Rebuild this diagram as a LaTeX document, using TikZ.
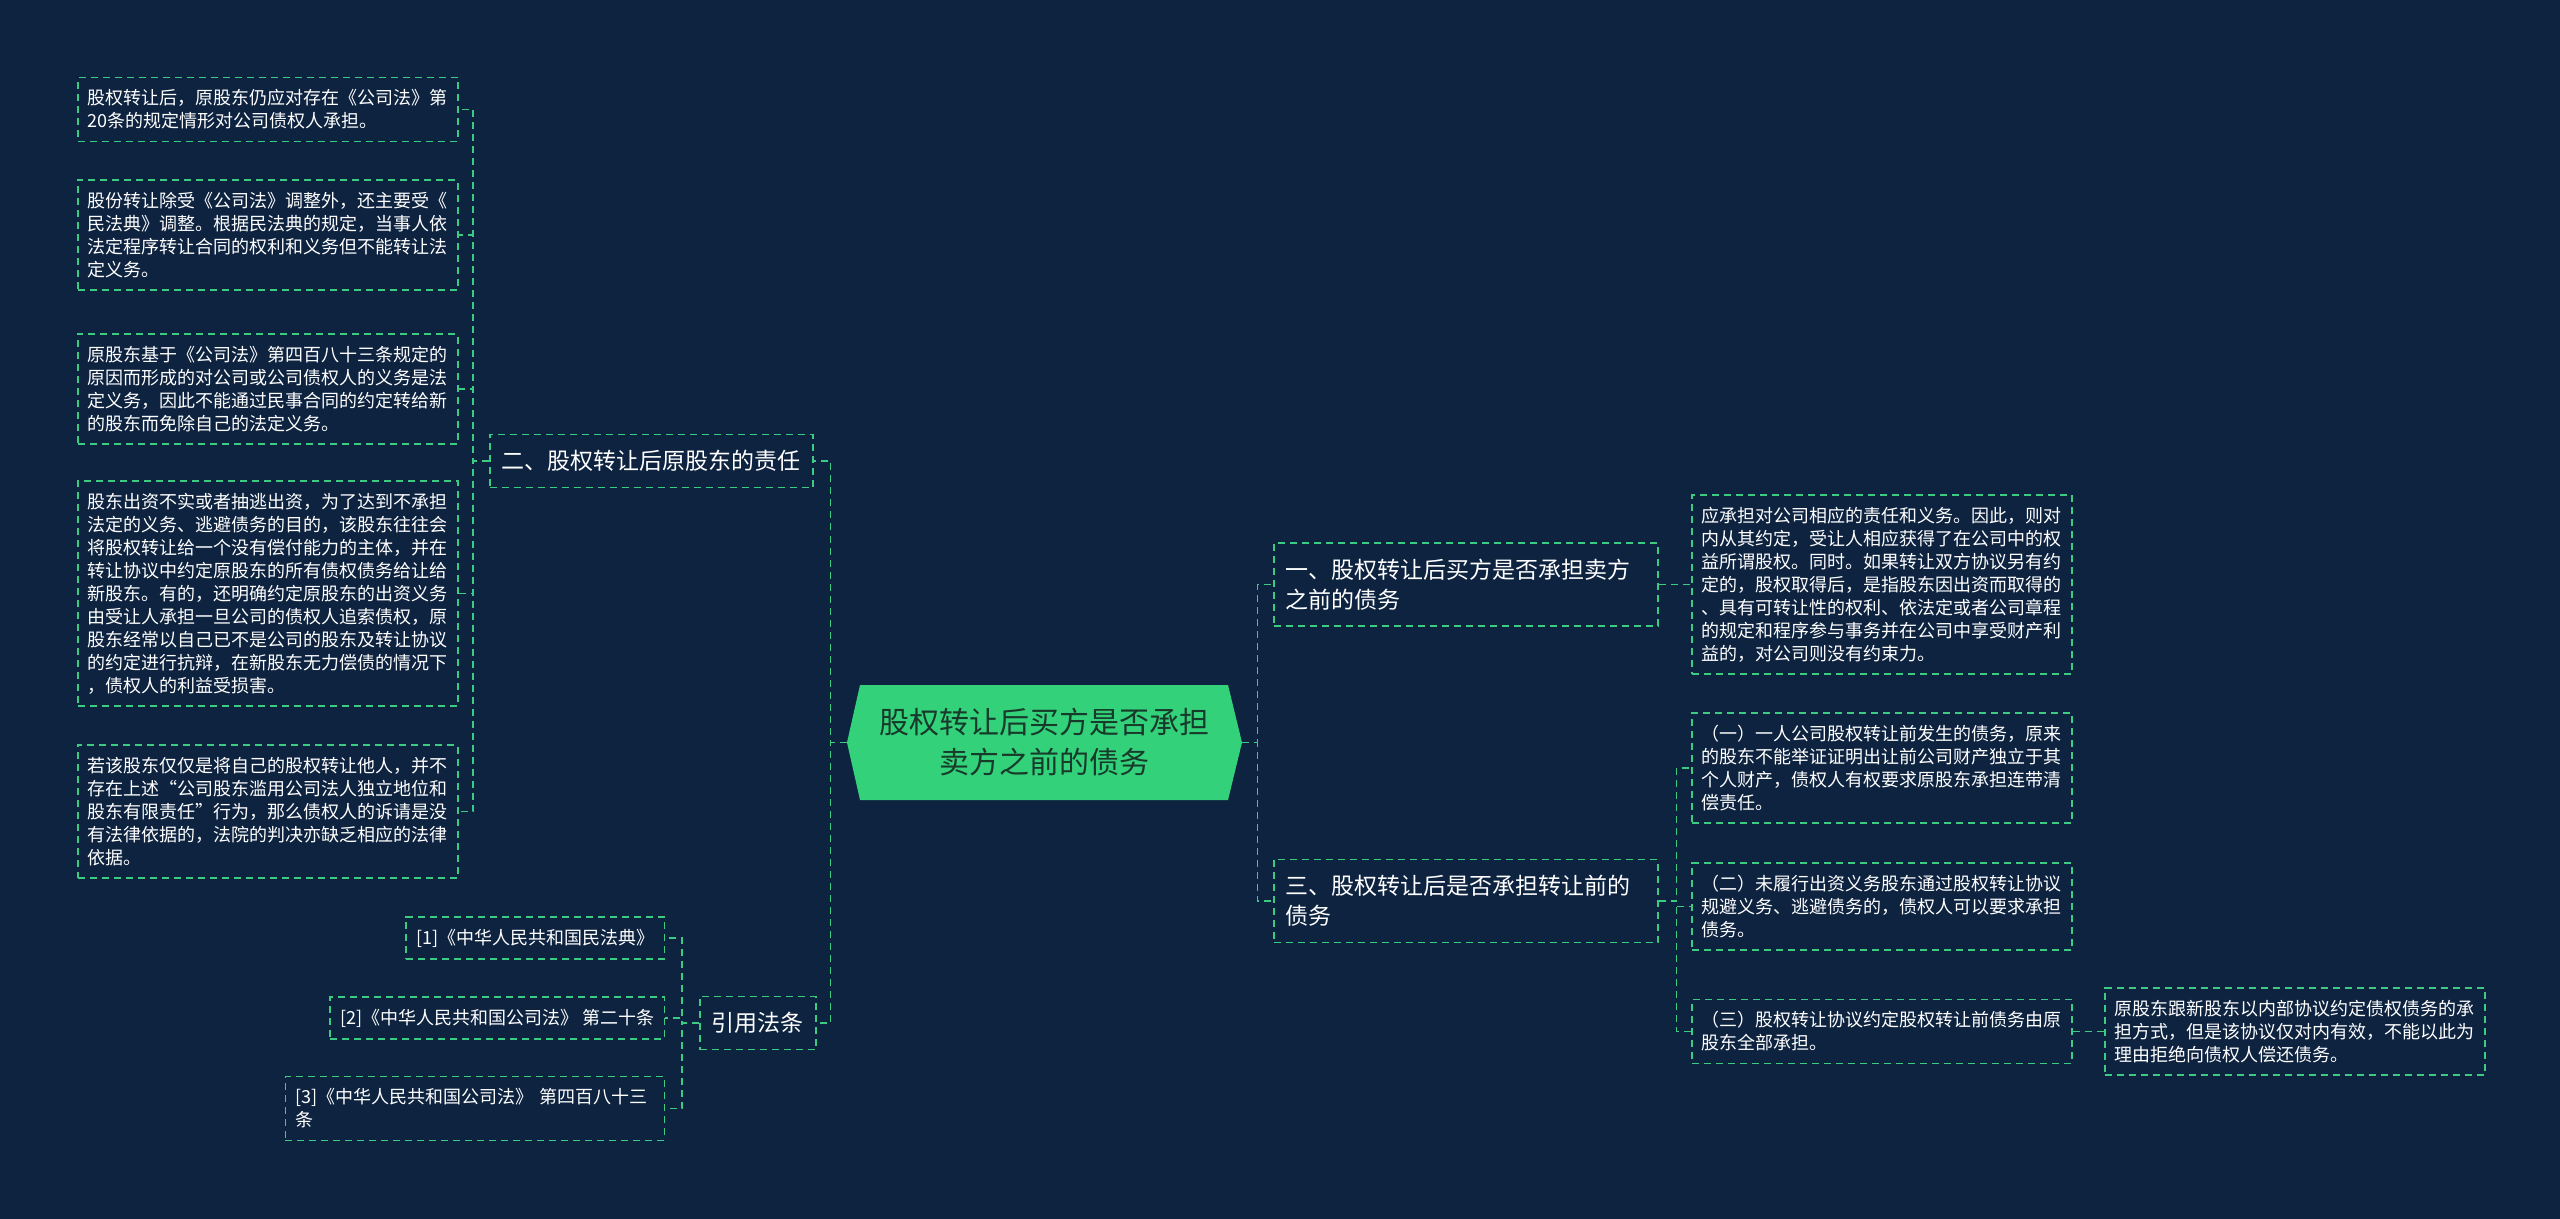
\documentclass[tikz,border=0pt]{standalone}
\usepackage{fontspec}
\setmainfont{Noto Sans CJK SC}
\usetikzlibrary{calc}
\definecolor{bg}{HTML}{0D2340}
\definecolor{ln}{HTML}{3CCB82}
\definecolor{rootfill}{HTML}{33D17A}
\definecolor{roottext}{HTML}{173A2B}
\tikzset{
  conn/.style={draw=ln, dash pattern=on 3.5pt off 2.5pt, line width=0.75pt},
  leafbox/.style={draw=ln, dash pattern=on 3.5pt off 2.5pt, line width=0.75pt, text=white,
    font=\fontsize{9pt}{11.5pt}\selectfont, align=left, text width=180pt, inner xsep=5pt, inner ysep=6pt},
  citebox/.style={draw=ln, dash pattern=on 3.5pt off 2.5pt, line width=0.75pt, text=white,
    font=\fontsize{9pt}{11.5pt}\selectfont, align=left, inner xsep=5pt, inner ysep=6pt},
  midbox/.style={draw=ln, dash pattern=on 3.5pt off 2.5pt, line width=0.75pt, text=white,
    font=\fontsize{11.5pt}{15pt}\selectfont, align=left, inner xsep=6pt, inner ysep=8pt},
  midwide/.style={midbox, text width=180pt},
}
\begin{document}
\begin{tikzpicture}[x=0.5pt,y=-0.5pt]
\useasboundingbox (0,0) rectangle (2560,1219);
\fill[bg] (0,0) rectangle (2560,1219);
% root hexagon
\fill[rootfill] (847,742.5) -- (860,685) -- (1228,685) -- (1242,742.5) -- (1228,800) -- (860,800) -- cycle;
\node[inner sep=0pt, minimum width=197.5pt, minimum height=57.5pt, text=roottext,
  font=\fontsize{15pt}{20pt}\selectfont, align=center] (root) at (1044.5,742.5)
  {股权转让后买方是否承担\\卖方之前的债务};

% level 1 left
\node[midbox, anchor=west] (n2) at (489,461) {二、股权转让后原股东的责任};
\node[midbox, anchor=west] (cit) at (699,1023) {引用法条};
% level 1 right
\node[midwide, anchor=west] (n1) at (1273,584.5) {一、股权转让后买方是否承担卖方\\之前的债务};
\node[midwide, anchor=west] (n3) at (1273,901) {三、股权转让后是否承担转让前的\\债务};

% left leaves
\node[leafbox, anchor=west] (b1) at (77,109.5) {股权转让后，原股东仍应对存在《公司法》第\\20条的规定情形对公司债权人承担。};
\node[leafbox, anchor=west] (b2) at (77,235) {股份转让除受《公司法》调整外，还主要受《\\民法典》调整。根据民法典的规定，当事人依\\法定程序转让合同的权利和义务但不能转让法\\定义务。};
\node[leafbox, anchor=west] (b3) at (77,389) {原股东基于《公司法》第四百八十三条规定的\\原因而形成的对公司或公司债权人的义务是法\\定义务，因此不能通过民事合同的约定转给新\\的股东而免除自己的法定义务。};
\node[leafbox, anchor=west] (b4) at (77,593.5) {股东出资不实或者抽逃出资，为了达到不承担\\法定的义务、逃避债务的目的，该股东往往会\\将股权转让给一个没有偿付能力的主体，并在\\转让协议中约定原股东的所有债权债务给让给\\新股东。有的，还明确约定原股东的出资义务\\由受让人承担一旦公司的债权人追索债权，原\\股东经常以自己已不是公司的股东及转让协议\\的约定进行抗辩，在新股东无力偿债的情况下\\，债权人的利益受损害。};
\node[leafbox, anchor=west] (b5) at (77,811.5) {若该股东仅仅是将自己的股权转让他人，并不\\存在上述“公司股东滥用公司法人独立地位和\\股东有限责任”行为，那么债权人的诉请是没\\有法律依据的，法院的判决亦缺乏相应的法律\\依据。};

% citations
\node[citebox, anchor=east] (c1) at (665,938) {[1]《中华人民共和国民法典》};
\node[citebox, anchor=east] (c2) at (665,1018) {[2]《中华人民共和国公司法》 第二十条};
\node[citebox, anchor=east, text width=179.5pt] (c3) at (665,1108.5) {[3]《中华人民共和国公司法》 第四百八十三\\条};

% right leaves
\node[leafbox, anchor=west] (r1) at (1691,584.5) {应承担对公司相应的责任和义务。因此，则对\\内从其约定，受让人相应获得了在公司中的权\\益所谓股权。同时。如果转让双方协议另有约\\定的，股权取得后，是指股东因出资而取得的\\、具有可转让性的权利、依法定或者公司章程\\的规定和程序参与事务并在公司中享受财产利\\益的，对公司则没有约束力。};
\node[leafbox, anchor=west] (r2) at (1691,768) {（一）一人公司股权转让前发生的债务，原来\\的股东不能举证证明出让前公司财产独立于其\\个人财产，债权人有权要求原股东承担连带清\\偿责任。};
\node[leafbox, anchor=west] (r3) at (1691,906.5) {（二）未履行出资义务股东通过股权转让协议\\规避义务、逃避债务的，债权人可以要求承担\\债务。};
\node[leafbox, anchor=west] (r4) at (1691,1031.5) {（三）股权转让协议约定股权转让前债务由原\\股东全部承担。};
\node[leafbox, anchor=west] (r5) at (2104,1031.5) {原股东跟新股东以内部协议约定债权债务的承\\担方式，但是该协议仅对内有效，不能以此为\\理由拒绝向债权人偿还债务。};

% connectors
\draw[conn] (root.west) -- ++(-16,0) |- (n2.east);
\draw[conn] (root.west) -- ++(-16,0) |- (cit.east);
\draw[conn] (root.east) -- ++(15,0) |- (n1.west);
\draw[conn] (root.east) -- ++(15,0) |- (n3.west);
\foreach \b in {b1,b2,b3,b4,b5} \draw[conn] (n2.west) -- ++(-16,0) |- (\b.east);
\foreach \c in {c1,c2,c3} \draw[conn] (cit.west) -- ++(-17,0) |- (\c.east);
\draw[conn] (n1.east) -- (r1.west);
\foreach \r in {r2,r3,r4} \draw[conn] (n3.east) -- ++(18,0) |- (\r.west);
\draw[conn] (r4.east) -- (r5.west);
\end{tikzpicture}
\end{document}
